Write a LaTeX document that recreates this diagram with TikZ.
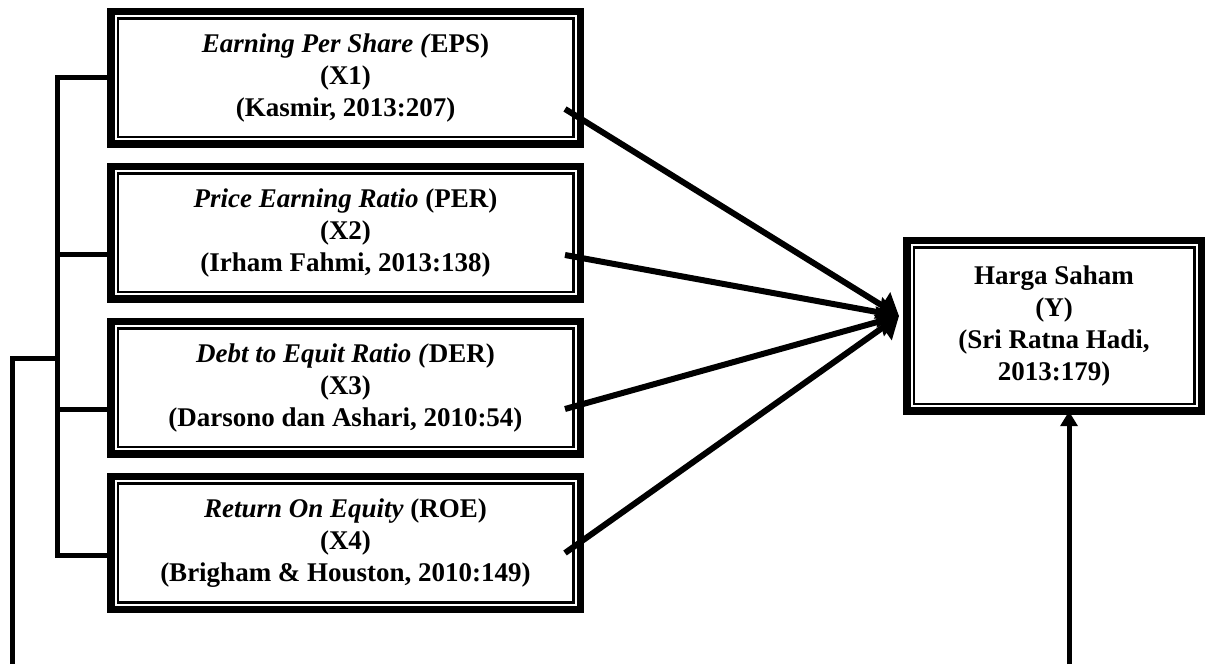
\documentclass[tikz,border=0pt]{standalone}
\usepackage{fontspec}
\setmainfont{Liberation Serif}
\usetikzlibrary{arrows.meta, positioning}
\tikzset{varbox/.style={draw, line width=7.5pt, outer sep=0pt, inner sep=0pt, align=center,
    minimum width=469.5pt, minimum height=132.5pt, font=\fontsize{27}{32}\selectfont\bfseries},
  link/.style={line width=5pt},
  arrow/.style={line width=6pt, -{Triangle[length=20pt,width=30pt]}},
  uparrow/.style={line width=5pt, -{Triangle[length=15pt,width=17pt]}}}

\begin{document}
\begin{tikzpicture}[x=1pt, y=1pt]
  \useasboundingbox (0,0) rectangle (1209,664);
  \node[varbox] (eps) at (345.5,586) {\textit{Earning Per Share (}EPS)\\(X1)\\(Kasmir, 2013:207)};
  \node[varbox, below=22.5pt of eps] (per) {\textit{Price Earning Ratio} (PER)\\(X2)\\(Irham Fahmi, 2013:138)};
  \node[varbox, below=22.5pt of per] (der) {\textit{Debt to Equit Ratio (}DER)\\(X3)\\(Darsono dan Ashari, 2010:54)};
  \node[varbox, below=22.5pt of der] (roe) {\textit{Return On Equity} (ROE)\\(X4)\\(Brigham \& Houston, 2010:149)};
  \node[varbox, minimum width=294.5pt, minimum height=170.5pt] (harga) at (1054,338) {Harga Saham\\(Y)\\(Sri Ratna Hadi,\\2013:179)};
  \foreach \n in {eps,per,der,roe,harga}
    \draw[line width=2.5pt] ([shift={(7pt,-7pt)}]\n.north west) rectangle ([shift={(-7pt,7pt)}]\n.south east);
  \coordinate (junction) at (57,305);
  \coordinate (leftfoot) at (12,0);
  \coordinate (yfoot) at (1069,0);
  \coordinate (tip) at ([xshift=-7.75pt,yshift=10pt]harga.west);
  \draw[link] (eps.west) -| (junction) |- ([yshift=-12pt]roe.west);
  \draw[link] ([yshift=-22pt]per.west) -| (junction);
  \draw[link] ([yshift=-22pt]der.west) -| (junction);
  \draw[link] (junction) -| (leftfoot);
  \foreach \n/\dy in {eps/31, per/22, der/21, roe/10}
    \draw[arrow] ([xshift=-15.25pt,yshift=-\dy pt]\n.east) -- (tip);
  \draw[uparrow] (yfoot) -- (yfoot |- harga.south);
\end{tikzpicture}
\end{document}
